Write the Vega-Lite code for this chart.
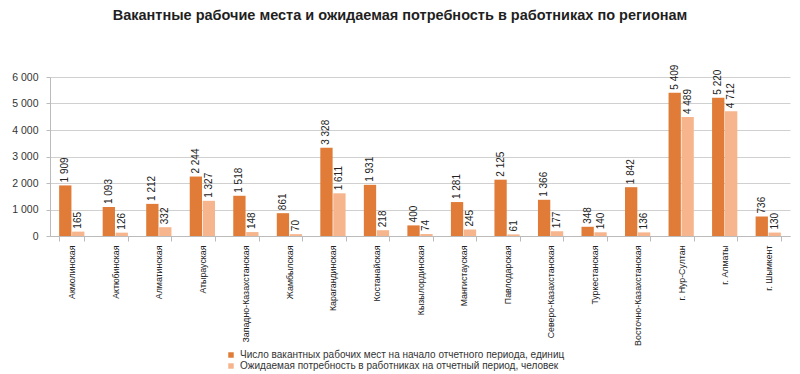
{
  "$schema": "https://vega.github.io/schema/vega-lite/v6.json",
  "width": 740,
  "height": 159,
  "autosize": {"type": "none"},
  "padding": {"left": 50, "top": 77, "right": 10, "bottom": 138},
  "background": "white",
  "config": {
    "locale": {"number": {"decimal": ",", "thousands": " ", "grouping": [3], "currency": ["", ""]}},
    "font": "Liberation Sans",
    "view": {"stroke": null}
  },
  "title": {
    "text": "Вакантные рабочие места и ожидаемая потребность в работниках по регионам",
    "fontSize": 14.5,
    "fontWeight": "bold",
    "color": "#1f1f1f",
    "anchor": "middle",
    "dx": -20,
    "offset": 41
  },
  "data": {
    "values": [
      {"region": "Акмолинская", "series": "Число вакантных рабочих мест на начало отчетного периода, единиц", "value": 1909},
      {"region": "Акмолинская", "series": "Ожидаемая потребность в работниках на отчетный период, человек", "value": 165},
      {"region": "Актюбинская", "series": "Число вакантных рабочих мест на начало отчетного периода, единиц", "value": 1093},
      {"region": "Актюбинская", "series": "Ожидаемая потребность в работниках на отчетный период, человек", "value": 126},
      {"region": "Алматинская", "series": "Число вакантных рабочих мест на начало отчетного периода, единиц", "value": 1212},
      {"region": "Алматинская", "series": "Ожидаемая потребность в работниках на отчетный период, человек", "value": 332},
      {"region": "Атырауская", "series": "Число вакантных рабочих мест на начало отчетного периода, единиц", "value": 2244},
      {"region": "Атырауская", "series": "Ожидаемая потребность в работниках на отчетный период, человек", "value": 1327},
      {"region": "Западно-Казахстанская", "series": "Число вакантных рабочих мест на начало отчетного периода, единиц", "value": 1518},
      {"region": "Западно-Казахстанская", "series": "Ожидаемая потребность в работниках на отчетный период, человек", "value": 148},
      {"region": "Жамбылская", "series": "Число вакантных рабочих мест на начало отчетного периода, единиц", "value": 861},
      {"region": "Жамбылская", "series": "Ожидаемая потребность в работниках на отчетный период, человек", "value": 70},
      {"region": "Карагандинская", "series": "Число вакантных рабочих мест на начало отчетного периода, единиц", "value": 3328},
      {"region": "Карагандинская", "series": "Ожидаемая потребность в работниках на отчетный период, человек", "value": 1611},
      {"region": "Костанайская", "series": "Число вакантных рабочих мест на начало отчетного периода, единиц", "value": 1931},
      {"region": "Костанайская", "series": "Ожидаемая потребность в работниках на отчетный период, человек", "value": 218},
      {"region": "Кызылординская", "series": "Число вакантных рабочих мест на начало отчетного периода, единиц", "value": 400},
      {"region": "Кызылординская", "series": "Ожидаемая потребность в работниках на отчетный период, человек", "value": 74},
      {"region": "Мангистауская", "series": "Число вакантных рабочих мест на начало отчетного периода, единиц", "value": 1281},
      {"region": "Мангистауская", "series": "Ожидаемая потребность в работниках на отчетный период, человек", "value": 245},
      {"region": "Павлодарская", "series": "Число вакантных рабочих мест на начало отчетного периода, единиц", "value": 2125},
      {"region": "Павлодарская", "series": "Ожидаемая потребность в работниках на отчетный период, человек", "value": 61},
      {"region": "Северо-Казахстанская", "series": "Число вакантных рабочих мест на начало отчетного периода, единиц", "value": 1366},
      {"region": "Северо-Казахстанская", "series": "Ожидаемая потребность в работниках на отчетный период, человек", "value": 177},
      {"region": "Туркестанская", "series": "Число вакантных рабочих мест на начало отчетного периода, единиц", "value": 348},
      {"region": "Туркестанская", "series": "Ожидаемая потребность в работниках на отчетный период, человек", "value": 140},
      {"region": "Восточно-Казахстанская", "series": "Число вакантных рабочих мест на начало отчетного периода, единиц", "value": 1842},
      {"region": "Восточно-Казахстанская", "series": "Ожидаемая потребность в работниках на отчетный период, человек", "value": 136},
      {"region": "г. Нур-Султан", "series": "Число вакантных рабочих мест на начало отчетного периода, единиц", "value": 5409},
      {"region": "г. Нур-Султан", "series": "Ожидаемая потребность в работниках на отчетный период, человек", "value": 4489},
      {"region": "г. Алматы", "series": "Число вакантных рабочих мест на начало отчетного периода, единиц", "value": 5220},
      {"region": "г. Алматы", "series": "Ожидаемая потребность в работниках на отчетный период, человек", "value": 4712},
      {"region": "г. Шымкент", "series": "Число вакантных рабочих мест на начало отчетного периода, единиц", "value": 736},
      {"region": "г. Шымкент", "series": "Ожидаемая потребность в работниках на отчетный период, человек", "value": 130}
    ]
  },
  "encoding": {
    "x": {
      "field": "region",
      "type": "nominal",
      "sort": null,
      "scale": {"paddingInner": 0.42, "paddingOuter": 0.21},
      "axis": {
        "title": null,
        "labelAngle": 270,
        "labelAlign": "right",
        "labelBaseline": "middle",
        "labelFontSize": 8.8,
        "labelColor": "#222",
        "labelPadding": 4,
        "tickBand": "extent",
        "tickColor": "#bbb",
        "tickSize": 5,
        "domainColor": "#bbb"
      }
    },
    "xOffset": {"field": "series", "type": "nominal", "sort": null, "scale": {"paddingInner": 0.05}},
    "y": {
      "field": "value",
      "type": "quantitative",
      "scale": {"domain": [0, 6000]},
      "axis": {
        "title": null,
        "values": [0, 1000, 2000, 3000, 4000, 5000, 6000],
        "format": ",d",
        "labelFontSize": 10.5,
        "labelColor": "#333",
        "gridColor": "#d0d0d0",
        "domainColor": "#bbb",
        "tickColor": "#bbb",
        "tickSize": 4,
        "labelPadding": 8
      }
    }
  },
  "layer": [
    {
      "mark": {"type": "bar"},
      "encoding": {
        "color": {
          "field": "series",
          "type": "nominal",
          "sort": null,
          "scale": {"range": ["#E07C38", "#F6B58C"]},
          "legend": {
            "title": null,
            "orient": "none",
            "legendX": 176,
            "legendY": 273,
            "direction": "vertical",
            "symbolType": "square",
            "symbolSize": 30,
            "labelFontSize": 10,
            "labelColor": "#333",
            "rowPadding": 1,
            "labelLimit": 500
          }
        }
      }
    },
    {
      "mark": {"type": "text", "angle": 270, "align": "left", "baseline": "middle", "dx": 3, "fontSize": 10, "color": "#222"},
      "encoding": {
        "text": {"field": "value", "type": "quantitative", "format": ",d"}
      }
    }
  ]
}
